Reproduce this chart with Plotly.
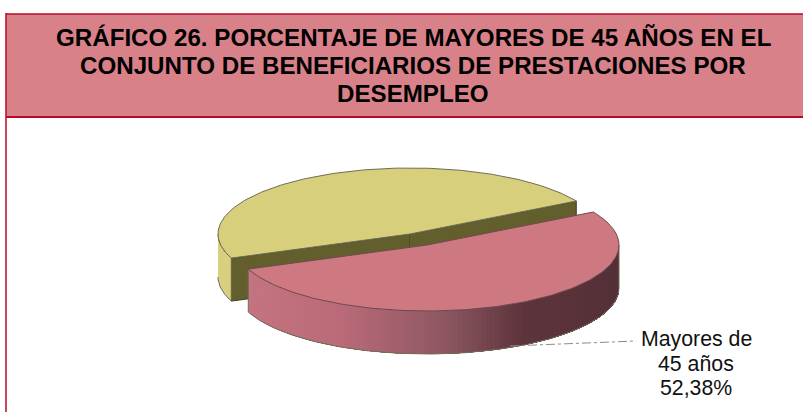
import numpy as np
import plotly.graph_objects as go

categories = ["Mayores de 45 años", "Resto de beneficiarios"]
values = [52.38, 47.62]
title_lines = ["GRÁFICO 26. PORCENTAJE DE MAYORES DE 45 AÑOS EN EL",
               "CONJUNTO DE BENEFICIARIOS DE PRESTACIONES POR",
               "DESEMPLEO"]
label_lines = ["Mayores de", "45 años", "52,38%"]

W, H = 803, 412
RX, RY, DEPTH = 192, 66, 43
YC = (410, 234)   # centre of the back slice
RC = (427, 245)   # centre of the exploded slice
START = 30.0      # angle where the back slice starts (deg)

span_y = values[1] / sum(values) * 360
a0, a1 = START, START + span_y
b0, b1 = a1, START + 360


def pt(c, t, dz=0):
    r = np.radians(t)
    return c[0] + RX * np.cos(r), c[1] - RY * np.sin(r) + dz


def arc(c, t0, t1, dz=0, n=160):
    x, y = pt(c, np.linspace(t0, t1, n), dz)
    return list(x), list(y)


def lerp_color(x, stops):
    xs = [s[0] for s in stops]
    rgb = [np.interp(x, xs, [s[1][i] for s in stops]) for i in range(3)]
    return "rgb(%d,%d,%d)" % tuple(int(round(v)) for v in rgb)


fig = go.Figure()


def poly(x, y, fill, line=None, width=1):
    fig.add_trace(go.Scatter(x=x, y=y, mode="lines", fill="toself", fillcolor=fill,
                             line=dict(color=line or fill, width=width),
                             hoverinfo="skip", showlegend=False))


EDGE = "#6f6d58"
OLIVE = "#625f2d"
YTOP = "#d7cf7c"
YWALL = "#d8d07e"
RTOP = "#ce7882"
RED_STOPS = [(247, (196, 116, 128)), (340, (186, 106, 120)), (440, (142, 88, 98)),
             (520, (94, 52, 60)), (620, (84, 48, 56))]

# back slice: outer wall, cut faces, top
xa, ya = arc(YC, 180, a1)
xb, yb = arc(YC, a1, 180, DEPTH)
poly(xa + xb, ya + yb, YWALL, EDGE)
tx, ty = pt(YC, a1)
rx_, ry_ = pt(YC, a0)
poly([tx, YC[0], YC[0], tx], [ty, YC[1], YC[1] + DEPTH, ty + DEPTH], OLIVE, "#3f3d20")
poly([YC[0], rx_, rx_, YC[0]], [YC[1], ry_, ry_ + DEPTH, YC[1] + DEPTH], OLIVE, "#3f3d20")
xt, yt = arc(YC, a0, a1)
poly([YC[0]] + xt + [YC[0]], [YC[1]] + yt + [YC[1]], YTOP, EDGE)

# exploded slice: outer wall shaded by strips painted left to right, each one
# running to the end of the wall so that no seams show
for t0 in np.linspace(b0, 360, 110, endpoint=False):
    xs, ys = arc(RC, t0, 360, 0, 60)
    xr, yr = arc(RC, 360, t0, DEPTH, 60)
    poly(xs + xr, ys + yr, lerp_color(float(pt(RC, t0)[0]), RED_STOPS), width=0)
xo, yo = arc(RC, b0, 360, DEPTH)
xe, ye = pt(RC, 360)
tlx, tly = pt(RC, b0)
fig.add_trace(go.Scatter(x=[tlx, tlx] + xo + [xe], y=[tly, tly + DEPTH] + yo + [ye], mode="lines",
                         line=dict(color=EDGE, width=1), hoverinfo="skip", showlegend=False))
xt, yt = arc(RC, b0, b1)
poly([RC[0]] + xt + [RC[0]], [RC[1]] + yt + [RC[1]], RTOP, "#6e4a50")

# leader line
fig.add_trace(go.Scatter(x=[510, 636], y=[346, 341], mode="lines",
                         line=dict(color="#8c8c8c", width=1, dash="dashdot"),
                         hoverinfo="skip", showlegend=False))

BORDER = "#b70a24"
shapes = [
    dict(type="rect", x0=6, x1=W + 5, y0=14, y1=117, fillcolor="#d98189",
         line=dict(width=0), layer="below"),
    dict(type="line", x0=6, x1=W, y0=14, y1=14, line=dict(color=BORDER, width=1.5)),
    dict(type="line", x0=6, x1=W, y0=117, y1=117, line=dict(color=BORDER, width=2)),
    dict(type="line", x0=6, x1=6, y0=13, y1=H, line=dict(color=BORDER, width=1.5)),
]

annotations = []
for y, s in zip([37, 65, 93], title_lines):
    annotations.append(dict(x=413, y=y, xref="x", yref="y", xanchor="center", yanchor="middle",
                            text="<b>%s</b>" % s, showarrow=False,
                            font=dict(family="Liberation Sans", size=24.15, color="black")))
for y, s in zip([339, 364, 388], label_lines):
    annotations.append(dict(x=696, y=y, xref="x", yref="y", xanchor="center", yanchor="middle",
                            text=s, showarrow=False,
                            font=dict(family="Liberation Sans", size=21.3, color="#111111")))

fig.update_layout(
    width=W, height=H, margin=dict(l=0, r=0, t=0, b=0, pad=0),
    paper_bgcolor="white", plot_bgcolor="rgba(0,0,0,0)", autosize=False,
    xaxis=dict(range=[0, W], visible=False, fixedrange=True),
    yaxis=dict(range=[H, 0], visible=False, fixedrange=True),
    shapes=shapes, showlegend=False, annotations=annotations,
)
fig.write_html("out.html", config=dict(displayModeBar=False),
               post_script="document.body.style.margin='0';document.body.style.overflow='hidden';")
